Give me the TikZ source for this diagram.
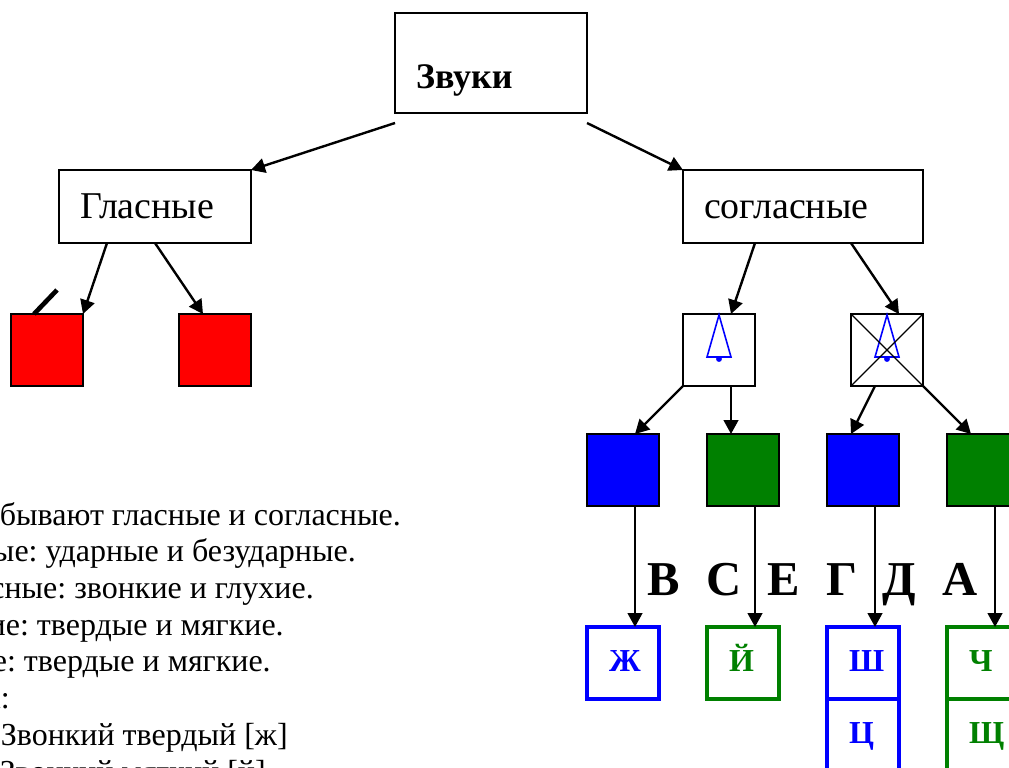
\documentclass[tikz,border=0pt]{standalone}
\usepackage{fontspec}
\setmainfont{Liberation Serif}
\frenchspacing
\usetikzlibrary{arrows.meta,positioning}
\definecolor{darkgreen}{RGB}{0,128,0}
\tikzset{
  titlebox/.style={draw, line width=1pt, anchor=north west, outer sep=0pt, minimum height=54.75pt, inner xsep=15.75pt, align=left, text height=22pt, text depth=3.5pt, font=\fontsize{28.4}{30}\selectfont},
  square/.style={draw, line width=1.1pt, anchor=north west, outer sep=0pt, inner sep=0pt, minimum size=54pt},
  letterbox/.style={draw=#1, text=#1, line width=3pt, anchor=north west, outer sep=0pt, inner xsep=16.5pt, inner ysep=0pt, text width=21pt, align=left, text height=16pt, text depth=4pt, minimum height=54pt, font=\bfseries\fontsize{24}{26}\selectfont},
  arrow/.style={-{Triangle[length=10.5pt,width=11pt]}, line width=1.8pt},
  bellline/.style={draw=blue, line width=1.2pt}
}
\begin{document}
\begin{tikzpicture}[x=0.75pt, y=-0.75pt]
  \clip (0,0) rectangle (1009,767);
  \node[titlebox, text width=112.5pt, minimum height=75pt] (zvuki) at (395,13) {\smash{\raisebox{-9.5pt}{\bfseries\fontsize{27}{30}\selectfont Звуки}}};
  \node[titlebox, text width=112.5pt] (glasnye) at (59,170) {Гласные};
  \node[titlebox, text width=148.5pt] (soglasnye) at (683,170) {согласные};

  \node[square, fill=red] (red1) at (11,314) {};
  \node[square, fill=red] (red2) at (179,314) {};
  \node[square] (bell1) at (683,314) {};
  \node[square] (bell2) at (851,314) {};
  \node[square, fill=blue] (blue1) at (587,434) {};
  \node[square, fill=darkgreen] (green1) at (707,434) {};
  \node[square, fill=blue] (blue2) at (827,434) {};
  \node[square, fill=darkgreen] (green2) at (947,434) {};

  \node[letterbox=blue] (zhe) at (587,627) {Ж};
  \node[letterbox=darkgreen] (yot) at (707,627) {Й};
  \node[letterbox=blue] (sha) at (827,627) {Ш};
  \node[letterbox=blue, below=0pt of sha] (tse) {Ц};
  \node[letterbox=darkgreen] (che) at (947,627) {Ч};
  \node[letterbox=darkgreen, below=0pt of che] (shcha) {Щ};

  % bells
  \foreach \b in {bell1,bell2} {
    \draw[bellline] ([yshift=-.75pt]\b.north) -- ([shift={(12,43)}]\b.north) -- ([shift={(-12,43)}]\b.north) -- cycle;
    \fill[blue] ([shift={(0,45)}]\b.north) circle (2.2pt);
  }
  \draw[line width=.9pt] (bell2.north west) -- (bell2.south east) (bell2.north east) -- (bell2.south west);
  \draw[line width=3.5pt] ([xshift=17.25pt]red1.north west) -- ++(23,-24);

  \path[arrow]
  ([yshift=-7.5pt]zvuki.south west) edge (glasnye.north east)
  ([yshift=-7.5pt]zvuki.south east) edge (soglasnye.north west)
  ([xshift=-36pt]glasnye.south) edge (red1.north east)
  (glasnye.south) edge ([xshift=-9pt]red2.north)
  ([xshift=-36pt]soglasnye.south) edge ([xshift=9pt]bell1.north)
  ([xshift=36pt]soglasnye.south) edge ([xshift=9pt]bell2.north)
  (bell1.south west) edge ([xshift=9pt]blue1.north)
  ([xshift=9pt]bell1.south) edge ([xshift=-9pt]green1.north)
  ([xshift=-9pt]bell2.south) edge ([xshift=-9pt]blue2.north)
  (bell2.south east) edge ([xshift=-9pt]green2.north)
  ;
  \foreach \a/\c in {blue1/zhe,green1/yot,blue2/sha,green2/che}
    \path[arrow] ([xshift=9pt]\a.south) edge ([xshift=9pt]\c.north);

  \foreach \x/\t in {647/В,706/С,767/Е,826/Г,882/Д,942/А}
    \node[anchor=base west, inner sep=0pt, font=\bfseries\fontsize{36.5}{40}\selectfont] (big\t) at (\x,595) {\t};

  \foreach \i/\x/\y/\t in {1/401/525/бывают гласные и согласные.,
    2/356/561/ые: ударные и безударные.,
    3/314/598/сные: звонкие и глухие.,
    4/284/635/ие: твердые и мягкие.,
    5/271/671/е: твердые и мягкие.,
    6/10/708/а:,
    7/288/745/Звонкий твердый [ж],
    8/266/782/Звонкий мягкий [й]}
    \node[anchor=base east, inner sep=0pt, font=\fontsize{24}{26}\selectfont] (line\i) at (\x,\y) {\t};
\end{tikzpicture}
\end{document}
